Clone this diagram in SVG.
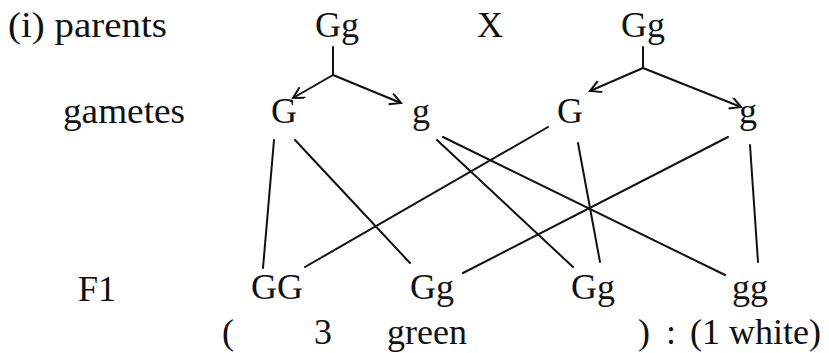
<svg xmlns="http://www.w3.org/2000/svg" width="829" height="353" viewBox="0 0 829 353">
<style>
text{font-family:"Liberation Serif","Times New Roman",serif;font-size:36px;fill:#111}
.c{text-anchor:middle}
.ln{stroke:#111;stroke-width:2;fill:none;stroke-linecap:round}
</style>
<defs>
<marker id="ah" markerUnits="userSpaceOnUse" markerWidth="16" markerHeight="16" refX="12" refY="6" orient="auto">
<path d="M1,0 L12,6 L1,12" fill="none" stroke="#111" stroke-width="2"/>
</marker>
</defs>
<rect width="829" height="353" fill="#fff"/>
<g id="labels">
<text x="8" y="37" textLength="159" lengthAdjust="spacingAndGlyphs">(i) parents</text>
<text x="63" y="123" textLength="122" lengthAdjust="spacingAndGlyphs">gametes</text>
<text x="78" y="301">F1</text>
<text class="c" x="490" y="37">X</text>
</g>
<g id="parent1"><text class="c" x="337" y="37">Gg</text></g>
<g id="parent2"><text class="c" x="643" y="37">Gg</text></g>
<g id="gamete1"><text class="c" x="284" y="123">G</text></g>
<g id="gamete2"><text class="c" x="421" y="123">g</text></g>
<g id="gamete3"><text class="c" x="570" y="123">G</text></g>
<g id="gamete4"><text class="c" x="748" y="123">g</text></g>
<g id="f1a"><text class="c" x="277" y="299">GG</text></g>
<g id="f1b"><text class="c" x="432" y="299">Gg</text></g>
<g id="f1c"><text class="c" x="593" y="299">Gg</text></g>
<g id="f1d"><text class="c" x="750" y="299">gg</text></g>
<g id="ratio">
<text x="222" y="344">(</text>
<text x="314" y="344">3</text>
<text x="387" y="344">green</text>
<text x="638" y="344">)</text>
<text x="666" y="344">:</text>
<text x="690" y="344">(1 white)</text>
</g>
<g id="connectors">
<path class="ln" d="M333,47 L333,75"/>
<path class="ln" d="M333,75 L293,98" marker-end="url(#ah)"/>
<path class="ln" d="M333,75 L401,103" marker-end="url(#ah)"/>
<path class="ln" d="M643,47 L643,68"/>
<path class="ln" d="M643,68 L590,91" marker-end="url(#ah)"/>
<path class="ln" d="M643,68 L741,107" marker-end="url(#ah)"/>
<path class="ln" d="M274,140 L263,268"/>
<path class="ln" d="M295,140 L410,263"/>
<path class="ln" d="M437,140 L573,267"/>
<path class="ln" d="M443,137 L725,275"/>
<path class="ln" d="M548,127 L305,267"/>
<path class="ln" d="M578,143 L600,262"/>
<path class="ln" d="M728,137 L463,273"/>
<path class="ln" d="M750,145 L758,262"/>
</g>
</svg>
